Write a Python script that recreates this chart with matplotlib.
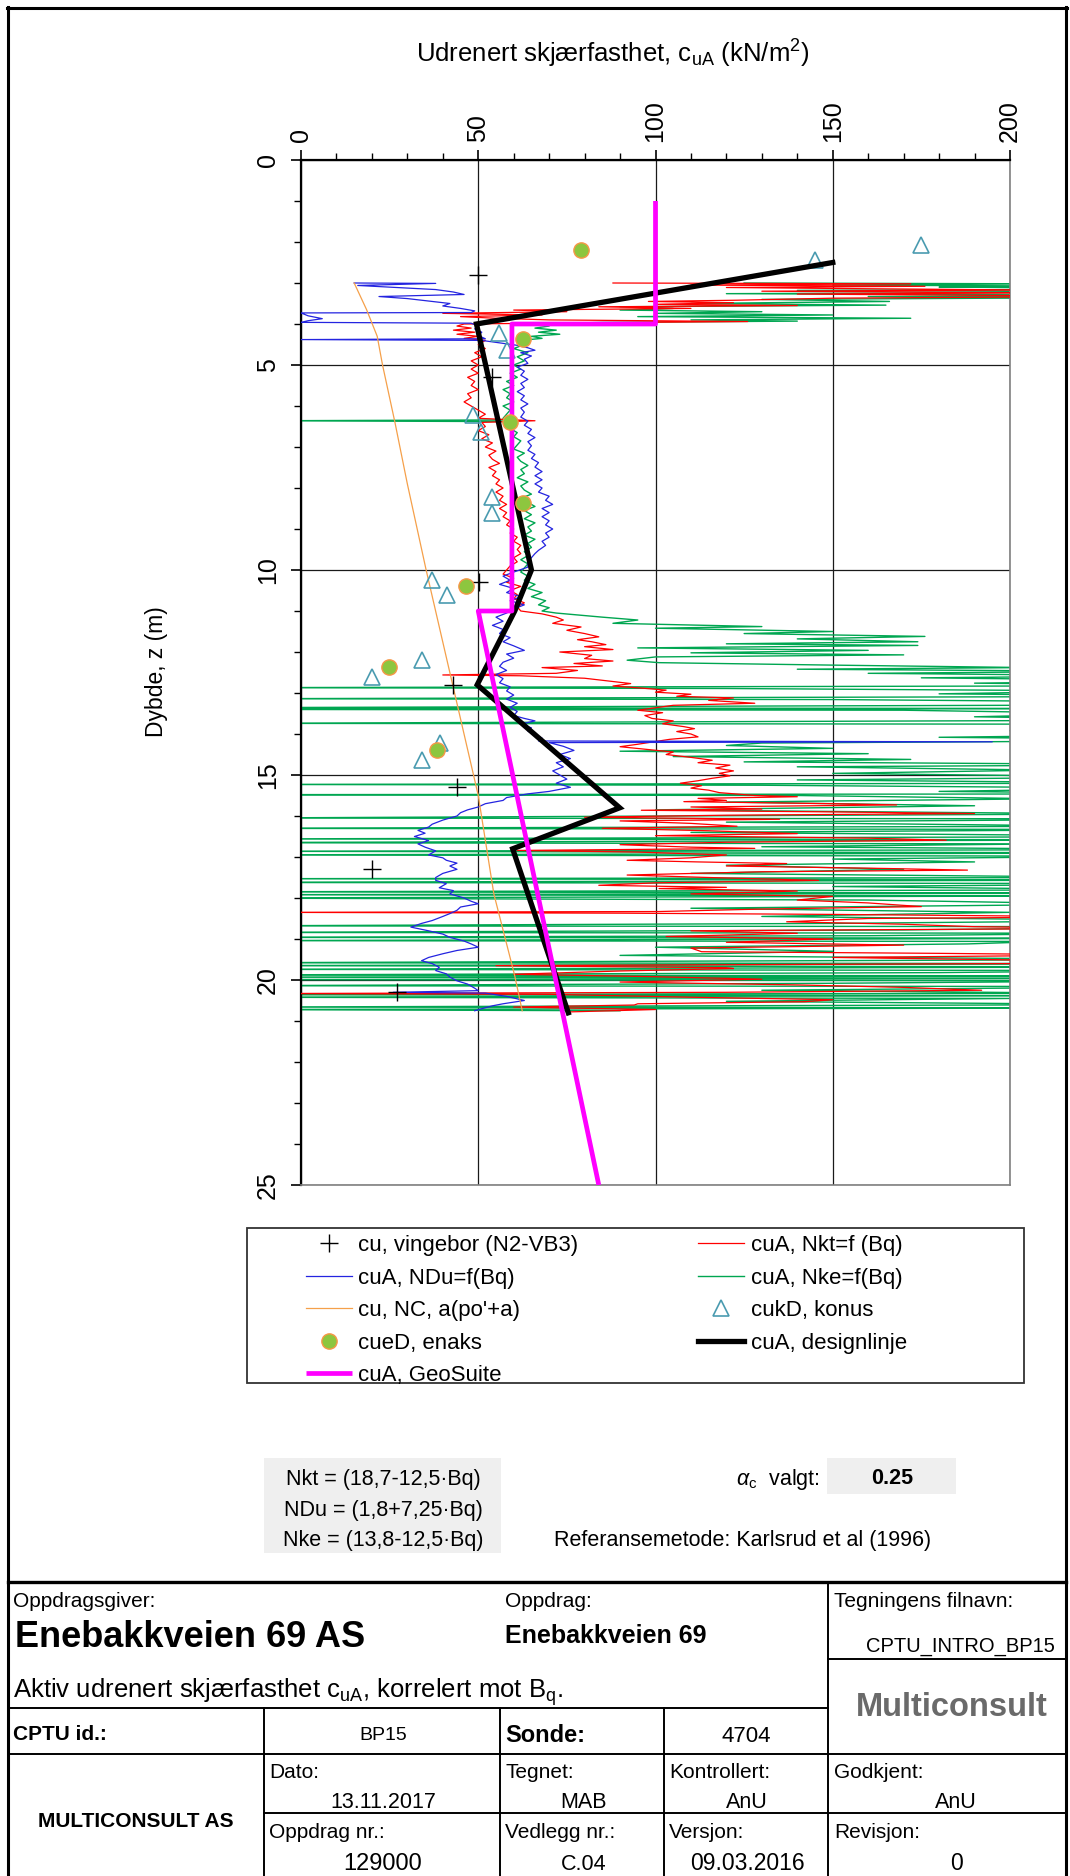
import matplotlib
matplotlib.use('Agg')
import matplotlib.pyplot as plt
from matplotlib.lines import Line2D
from matplotlib.patches import Rectangle
from matplotlib.ticker import MultipleLocator

plt.rcParams['font.family'] = ['Liberation Sans', 'DejaVu Sans']
plt.rcParams['mathtext.fontset'] = 'custom'
plt.rcParams['mathtext.rm'] = 'Liberation Sans'
plt.rcParams['mathtext.it'] = 'Liberation Sans:italic'
plt.rcParams['mathtext.bf'] = 'Liberation Sans:bold'

# ---------------- data (depth m, cu kN/m2) ----------------
X_TICKS = [0, 50, 100, 150, 200]
Y_TICKS = [0, 5, 10, 15, 20, 25]

VANE = [(50, 2.8), (54, 5.3), (50.3, 10.3), (42.8, 12.8), (44.1, 15.3), (20.1, 17.3), (27.2, 20.3)]
ENAKS = [(79, 2.2), (62.7, 4.37), (59, 6.4), (62.7, 8.37), (46.5, 10.4), (24.8, 12.37), (38.3, 14.4)]
KONUS = [(145, 2.45), (175, 2.07), (55.9, 4.21), (58, 4.64), (48.6, 6.21), (50.7, 6.63), (53.8, 8.22),
         (53.8, 8.62), (37, 10.24), (41.1, 10.62), (34, 12.2), (20.1, 12.61), (39.2, 14.22), (34, 14.63)]
DESIGN = [(150, 2.5), (49.5, 4.0), (65, 10.0), (60.3, 11.0), (49.7, 12.8), (89.9, 15.8), (59.7, 16.8), (75.4, 20.8)]
GEOSUITE = [(100, 1.0), (100, 4.0), (59.5, 4.0), (59.5, 11.0), (50, 11.0), (84, 25.0)]
NC_LINE = [(15, 3.0), (18.5, 3.65), (21.5, 4.3), (23, 5.0), (26.5, 6.4), (30, 7.9), (35.3, 10.0),
           (50, 15.5), (54.4, 17.9), (60.3, 19.9), (62.4, 20.75)]

# traces as (depth, cu)
NDU = [(3.00,15),(3.01,38),(3.06,16),(3.10,25),(3.16,38),(3.22,43),(3.28,46),(3.33,22),(3.38,30),(3.44,36),
(3.50,42),(3.56,40),(3.62,45),(3.68,49),(3.72,48),(3.73,0),(3.80,2),(3.87,6),(3.92,2),(3.96,0),(3.98,48),
(4.05,50),(4.12,49),(4.20,51),(4.28,50),(4.36,52),(4.38,0),(4.40,51),(4.46,56),(4.52,61),(4.58,64),(4.64,66),
(4.70,62),(4.78,65),(4.86,63),(4.96,64),(5.05,61),(5.15,63),(5.25,62),(5.35,64),(5.45,62),(5.55,63),(5.65,61),
(5.75,63),(5.85,62),(5.95,64),(6.05,62),(6.15,63),(6.27,62),(6.37,64),(6.47,63),(6.57,65),(6.67,64),(6.77,66),
(6.87,64),(6.97,65),(7.08,64),(7.18,66),(7.28,65),(7.38,67),(7.49,66),(7.60,68),(7.70,66),(7.80,68),(7.90,66),
(8.00,68),(8.10,67),(8.20,70),(8.30,69),(8.40,71),(8.50,68),(8.60,70),(8.70,68),(8.80,70),(8.90,69),(9.00,71),
(9.10,69),(9.20,70),(9.30,68),(9.40,69),(9.52,67),(9.60,66),(9.70,65),(9.80,64),(9.93,64),(10.05,60),(10.15,57),
(10.25,59),(10.35,56),(10.45,60),(10.55,58),(10.65,62),(10.75,59),(10.85,63),(10.95,60),(11.05,58),(11.15,55),
(11.25,57),(11.35,54),(11.45,57),(11.55,56),(11.65,59),(11.75,57),(11.85,60),(11.96,63),(12.05,58),(12.15,60),
(12.25,57),(12.35,56),(12.45,58),(12.55,55),(12.65,57),(12.75,56),(12.85,59),(12.95,58),(13.05,60),(13.15,58),
(13.25,61),(13.35,59),(13.45,61),(13.55,60),(13.62,63),(13.68,66),(13.76,62),(13.85,65),(13.93,64),(14.02,66),
(14.10,68),(14.17,67),(14.19,195),(14.21,70),(14.30,74),(14.40,77),(14.50,73),(14.60,76),(14.70,72),(14.80,74),
(14.90,71),(15.00,73),(15.10,75),(15.20,72),(15.30,76),(15.40,70),(15.46,64),(15.55,58),(15.62,57),(15.70,52),
(15.78,50),(15.85,47),(15.92,45),(16.00,44),(16.10,40),(16.20,37),(16.27,36),(16.35,33),(16.42,35),(16.50,32),
(16.60,36),(16.68,33),(16.76,35),(16.85,38),(16.95,36),(17.02,40),(17.08,41),(17.15,44),(17.22,42),(17.30,44),
(17.40,40),(17.50,38),(17.57,38),(17.65,41),(17.75,39),(17.82,43),(17.90,42),(18.00,46),(18.08,48),(18.14,50),
(18.22,45),(18.30,44),(18.38,42),(18.45,40),(18.55,37),(18.62,34),(18.71,31),(18.80,36),(18.88,40),(18.96,42),
(19.05,46),(19.12,48),(19.20,50),(19.28,44),(19.36,40),(19.45,36),(19.53,34),(19.60,37),(19.69,39),(19.77,38),
(19.85,41),(19.93,42),(20.02,44),(20.10,47),(20.20,49),(20.26,50),(20.30,26),(20.32,52),(20.40,58),(20.50,63),
(20.58,57),(20.63,54),(20.70,51),(20.75,49)]

NKT = [(3.00,88),(3.02,172),(3.05,110),(3.08,176),(3.11,120),(3.14,160),(3.17,205),(3.20,130),(3.24,210),(3.27,140),
(3.31,210),(3.34,205),(3.37,150),(3.42,123),(3.45,98),(3.48,122),(3.52,100),(3.55,140),(3.58,84),(3.62,110),
(3.66,60),(3.70,75),(3.74,40),(3.78,68),(3.82,45),(3.86,55),(3.90,70),(3.94,126),(3.97,80),(4.00,46),(4.05,44),
(4.10,48),(4.15,43),(4.20,49),(4.25,44),(4.30,50),(4.35,46),(4.40,52),(4.50,50),(4.60,52),(4.70,49),(4.80,51),
(4.90,48),(5.00,50),(5.10,48),(5.20,50),(5.30,47),(5.40,49),(5.50,48),(5.60,50),(5.70,47),(5.80,48),(5.90,46),
(6.00,48),(6.10,50),(6.20,52),(6.30,50),(6.36,66),(6.40,51),(6.50,52),(6.60,50),(6.70,53),(6.80,51),(6.90,54),
(7.00,52),(7.10,55),(7.20,53),(7.30,54),(7.40,56),(7.50,53),(7.60,55),(7.70,54),(7.80,56),(7.90,55),(8.00,57),
(8.10,55),(8.20,57),(8.30,56),(8.40,58),(8.50,56),(8.60,58),(8.70,57),(8.80,59),(8.90,58),(9.00,60),(9.10,59),
(9.20,61),(9.30,60),(9.40,62),(9.50,61),(9.60,62),(9.70,60),(9.80,61),(9.90,59),(10.00,58),(10.10,57),(10.20,60),
(10.30,58),(10.40,62),(10.50,59),(10.60,61),(10.70,60),(10.80,63),(10.90,61),(11.00,62),(11.07,68),(11.15,72),
(11.22,74),(11.30,71),(11.39,79),(11.47,75),(11.55,80),(11.63,84),(11.70,78),(11.75,82),(11.82,86),(11.87,80),
(11.94,88),(12.00,73),(12.08,82),(12.16,80),(12.22,88),(12.28,77),(12.34,85),(12.38,68),(12.45,78),(12.52,72),
(12.56,40),(12.58,62),(12.64,80),(12.70,86),(12.77,93),(12.83,88),(12.88,96),(12.93,103),(12.98,100),(13.03,110),
(13.08,106),(13.12,122),(13.18,115),(13.25,128),(13.30,105),(13.36,100),(13.42,95),(13.48,102),(13.55,97),
(13.62,99),(13.68,105),(13.75,102),(13.82,108),(13.87,111),(13.94,106),(14.00,110),(14.07,112),(14.13,104),
(14.25,95),(14.31,90),(14.38,98),(14.44,105),(14.50,103),(14.57,110),(14.64,116),(14.70,112),(14.76,121),
(14.83,117),(14.90,122),(14.96,118),(15.02,121),(15.08,116),(15.14,112),(15.20,107),(15.26,113),(15.32,110),
(15.37,115),(15.43,118),(15.50,128),(15.53,140),(15.57,112),(15.62,120),(15.65,108),(15.70,150),(15.73,168),
(15.78,110),(15.83,130),(15.86,96),(15.90,150),(15.94,190),(15.98,120),(16.03,80),(16.08,135),(16.12,90),
(16.18,110),(16.25,123),(16.30,85),(16.36,115),(16.43,140),(16.48,100),(16.54,160),(16.59,182),(16.64,120),
(16.70,90),(16.76,110),(16.79,128),(16.84,61),(16.88,95),(16.95,120),(17.02,110),(17.08,92),(17.12,112),
(17.16,137),(17.22,120),(17.28,165),(17.32,188),(17.36,130),(17.44,92),(17.50,115),(17.57,146),(17.63,100),
(17.69,84),(17.74,120),(17.77,101),(17.83,140),(17.90,110),(17.96,150),(18.05,140),(18.12,160),(18.21,175),
(18.27,130),(18.33,101),(18.35,-10),(18.37,90),(18.40,150),(18.46,230),(18.50,160),(18.58,137),(18.64,170),
(18.70,190),(18.74,230),(18.80,110),(18.86,140),(18.94,103),(19.00,150),(19.08,120),(19.15,170),(19.22,110),
(19.31,113),(19.35,180),(19.39,230),(19.45,150),(19.52,210),(19.56,240),(19.60,200),(19.65,55),(19.70,120),
(19.72,122),(19.78,90),(19.86,60),(19.92,100),(19.98,130),(20.05,90),(20.12,140),(20.18,170),(20.25,192),
(20.30,120),(20.33,-10),(20.35,70),(20.42,110),(20.48,150),(20.53,142),(20.58,95),(20.61,94),(20.66,60),
(20.72,100),(20.78,75)]

NKE = [(3.00,125),(3.02,210),(3.05,150),(3.08,230),(3.10,180),(3.14,260),(3.18,140),(3.22,250),(3.26,120),
(3.30,240),(3.33,160),(3.36,220),(3.40,130),(3.45,166),(3.50,110),(3.54,165),(3.58,90),(3.62,105),(3.66,90),
(3.70,130),(3.74,100),(3.78,150),(3.82,95),(3.86,172),(3.90,110),(3.93,140),(3.96,85),(4.00,68),(4.05,70),
(4.10,66),(4.15,72),(4.20,67),(4.25,73),(4.30,65),(4.35,68),(4.40,62),(4.50,63),(4.60,60),(4.70,64),(4.80,61),
(4.90,63),(5.00,60),(5.10,62),(5.20,59),(5.30,61),(5.40,58),(5.50,60),(5.60,57),(5.70,59),(5.80,58),(5.90,60),
(6.00,57),(6.10,59),(6.20,58),(6.30,57),(6.34,57),(6.36,-10),(6.38,58),(6.45,60),(6.55,59),(6.65,61),(6.75,60),
(6.85,62),(6.95,61),(7.05,60),(7.15,63),(7.25,61),(7.35,62),(7.45,64),(7.55,62),(7.65,63),(7.75,61),(7.85,64),
(7.95,62),(8.05,63),(8.15,65),(8.25,62),(8.35,64),(8.45,66),(8.55,63),(8.65,65),(8.75,63),(8.85,66),(8.95,64),
(9.05,65),(9.15,63),(9.25,66),(9.35,64),(9.45,65),(9.55,63),(9.65,64),(9.75,62),(9.85,64),(9.95,63),(10.05,62),
(10.15,64),(10.25,63),(10.35,66),(10.45,64),(10.55,68),(10.65,65),(10.75,69),(10.85,67),(10.92,70),(11.00,68),
(11.05,72),(11.15,85),(11.22,95),(11.30,88),(11.38,130),(11.42,100),(11.50,150),(11.55,125),(11.62,176),
(11.68,140),(11.75,174),(11.80,120),(11.84,174),(11.90,95),(11.96,160),(12.02,110),(12.07,170),(12.12,100),
(12.20,92),(12.26,101),(12.32,150),(12.38,205),(12.42,140),(12.47,230),(12.52,160),(12.58,240),(12.63,175),
(12.70,250),(12.76,190),(12.82,260),(12.87,-20),(12.89,120),(12.95,230),(13.02,180),(13.08,260),(13.14,-20),
(13.16,150),(13.22,240),(13.30,200),(13.36,-30),(13.38,260),(13.40,-30),(13.42,170),(13.50,230),(13.58,190),
(13.66,250),(13.74,-20),(13.76,210),(13.85,250),(13.92,200),(14.00,260),(14.08,180),(14.15,270),(14.22,130),
(14.28,120),(14.35,150),(14.42,90),(14.48,160),(14.55,105),(14.62,172),(14.68,125),(14.75,250),(14.80,140),
(14.88,210),(14.96,150),(15.05,240),(15.12,140),(15.20,250),(15.23,-20),(15.25,130),(15.32,240),(15.40,180),
(15.46,260),(15.48,-30),(15.50,140),(15.58,210),(15.66,120),(15.75,190),(15.85,100),(15.95,230),(16.05,-20),
(16.07,250),(16.15,120),(16.25,230),(16.30,-30),(16.33,240),(16.40,110),(16.50,260),(16.56,-20),(16.58,250),
(16.65,-30),(16.68,210),(16.75,130),(16.82,250),(16.86,-20),(16.90,260),(16.95,-30),(16.98,240),(17.05,150),
(17.12,190),(17.20,120),(17.30,170),(17.40,110),(17.50,240),(17.53,-20),(17.56,250),(17.62,-30),(17.65,260),
(17.72,150),(17.80,240),(17.85,-25),(17.88,250),(17.92,-20),(17.95,230),(18.00,-30),(18.05,160),(18.15,230),
(18.25,110),(18.35,200),(18.45,130),(18.55,240),(18.62,150),(18.68,-20),(18.70,250),(18.78,170),(18.84,-20),
(18.86,240),(18.92,160),(18.96,-30),(18.98,250),(19.04,-20),(19.06,210),(19.12,188),(19.20,100),(19.30,150),
(19.40,90),(19.50,240),(19.58,-20),(19.60,260),(19.65,-25),(19.68,250),(19.74,-20),(19.77,240),(19.82,180),
(19.88,-30),(19.90,260),(19.93,-20),(19.96,250),(19.99,-30),(20.02,240),(20.08,150),(20.14,-20),(20.16,250),
(20.25,130),(20.32,220),(20.36,-20),(20.38,230),(20.42,-30),(20.45,200),(20.52,120),(20.60,240),(20.66,-20),
(20.68,260),(20.72,-25),(20.75,90)]

LEGEND_LABELS = ['cu, vingebor (N2-VB3)', 'cuA, NDu=f(Bq)', "cu, NC, a(po'+a)", 'cueD, enaks', 'cuA, GeoSuite',
                 'cuA, Nkt=f (Bq)', 'cuA, Nke=f(Bq)', 'cukD, konus', 'cuA, designlinje']

# ---------------- figure ----------------
W, H = 1070, 1876
fig = plt.figure(figsize=(W / 100, H / 100), dpi=100)


def FX(px):
    return px / W


def FY(py):
    return 1 - py / H


def hline(x0, x1, y, lw=1.4, color='black'):
    fig.add_artist(Line2D([FX(x0), FX(x1)], [FY(y), FY(y)], lw=lw, color=color, transform=fig.transFigure))


def vline(x, y0, y1, lw=1.4, color='black'):
    fig.add_artist(Line2D([FX(x), FX(x)], [FY(y0), FY(y1)], lw=lw, color=color, transform=fig.transFigure))


def txt(x, y, s, size, ha='left', weight='normal', color='black', va='baseline', **kw):
    fig.text(FX(x), FY(y), s, fontsize=size, ha=ha, va=va, fontweight=weight, color=color, **kw)


def unz_dv(tr):
    return [p[1] for p in tr], [p[0] for p in tr]


def unz_xy(tr):
    return [p[0] for p in tr], [p[1] for p in tr]


ax = fig.add_axes([FX(301), FY(1185), FX(1010) - FX(301), (1185 - 160) / H])

x, y = unz_dv(NKE)
h_nke, = ax.plot(x, y, color='#00a651', lw=1.0, zorder=2)
x, y = unz_dv(NKT)
h_nkt, = ax.plot(x, y, color='#ff0000', lw=0.9, zorder=3)
x, y = unz_dv(NDU)
h_ndu, = ax.plot(x, y, color='#2424e0', lw=0.9, zorder=4)
x, y = unz_xy(NC_LINE)
h_nc, = ax.plot(x, y, color='#f5a04a', lw=0.9, zorder=4)
x, y = unz_xy(KONUS)
h_konus, = ax.plot(x, y, ls='none', marker='^', ms=12, mfc='none', mec='#4a9bb0', mew=1.2, zorder=5)
x, y = unz_xy(VANE)
h_vane, = ax.plot(x, y, ls='none', marker='+', ms=13, mec='black', mew=1.0, zorder=5)
x, y = unz_xy(DESIGN)
h_design, = ax.plot(x, y, color='black', lw=3.8, zorder=6, solid_joinstyle='miter')
x, y = unz_xy(GEOSUITE)
h_geo, = ax.plot(x, y, color='#ff00ff', lw=3.4, zorder=7, solid_capstyle='butt')
x, y = unz_xy(ENAKS)
h_enaks, = ax.plot(x, y, ls='none', marker='o', ms=11, mfc='#8dc63f', mec='#f79646', mew=1.0, zorder=8)

ax.set_xlim(0, 200)
ax.set_ylim(25, 0)
ax.xaxis.set_ticks_position('top')
ax.set_xticks(X_TICKS)
ax.set_yticks(Y_TICKS)
ax.xaxis.set_minor_locator(MultipleLocator(10))
ax.yaxis.set_minor_locator(MultipleLocator(1))
ax.tick_params(axis='x', which='major', direction='out', length=7, width=1.2, pad=6, labelsize=18, labelrotation=90)
ax.tick_params(axis='x', which='minor', direction='out', length=5, width=1.0)
ax.tick_params(axis='y', which='major', direction='out', length=7, width=1.2, pad=8, labelsize=18, labelrotation=90)
ax.tick_params(axis='y', which='minor', direction='out', length=5, width=1.0)
for lab in ax.get_yticklabels():
    lab.set_va('center')
ax.grid(True, which='major', color='#1a1a1a', lw=0.9)
ax.set_axisbelow(True)
for s in ['top', 'left']:
    ax.spines[s].set_linewidth(1.6)
    ax.spines[s].set_color('black')
for s in ['right', 'bottom']:
    ax.spines[s].set_linewidth(1.2)
    ax.spines[s].set_color('#808080')

txt(613, 63, r'Udrenert skjærfasthet, c$_{\mathregular{uA}}$ (kN/m$^{\mathregular{2}}$)', 18.5, ha='center')
txt(156, 672, 'Dybde, z (m)', 16.5, ha='center', va='center', rotation=90)

# legend
handles = [h_vane, h_ndu, h_nc, h_enaks, h_geo, h_nkt, h_nke, h_konus, h_design]
fig.legend(handles, LEGEND_LABELS, loc='upper left', bbox_to_anchor=(FX(306), FY(1235)),
           bbox_transform=fig.transFigure, ncol=2, frameon=False, fontsize=16, handlelength=2.05,
           handletextpad=0.3, columnspacing=5.4, labelspacing=0.52, borderpad=0, borderaxespad=0, numpoints=1)
fig.add_artist(Rectangle((FX(247), FY(1383)), FX(1024) - FX(247), (1383 - 1228) / H, fill=False,
                         lw=1.3, ec='#333333', transform=fig.transFigure))

# formula area
fig.add_artist(Rectangle((FX(264), FY(1553)), FX(501) - FX(264), (1553 - 1458) / H, fc='#efefef', ec='none',
                         transform=fig.transFigure, zorder=0))
fig.add_artist(Rectangle((FX(827), FY(1494)), FX(956) - FX(827), (1494 - 1458) / H, fc='#efefef', ec='none',
                         transform=fig.transFigure, zorder=0))
txt(383, 1485, 'Nkt = (18,7-12,5·Bq)', 15.5, ha='center')
txt(383, 1516, 'NDu = (1,8+7,25·Bq)', 15.5, ha='center')
txt(383, 1546, 'Nke = (13,8-12,5·Bq)', 15.5, ha='center')
txt(736, 1485, r'$\alpha_{\mathregular{c}}$  valgt:', 15.5)
txt(892, 1484, '0.25', 15.5, ha='center', weight='bold')
txt(743, 1546, 'Referansemetode: Karlsrud et al (1996)', 15.5, ha='center')

# outer frame
vline(8, 7, 1876, lw=2.2)
vline(1066, 7, 1876, lw=2.2)
hline(7, 1067, 8, lw=2.2)

# title block
hline(8, 1066, 1582, lw=2.4)
hline(8, 828, 1708)
hline(828, 1066, 1659)
hline(8, 1066, 1754)
hline(264, 1066, 1813)
vline(828, 1582, 1876)
vline(264, 1708, 1876)
vline(500, 1708, 1876)
vline(664, 1708, 1876)

txt(13, 1607, 'Oppdragsgiver:', 15)
txt(15, 1647, 'Enebakkveien 69 AS', 26, weight='bold')
txt(13, 1698, r'Aktiv udrenert skjærfasthet c$_{\mathregular{uA}}$, korrelert mot B$_{\mathregular{q}}$.', 18.5)
txt(505, 1607, 'Oppdrag:', 15)
txt(505, 1643, 'Enebakkveien 69', 18, weight='bold')
txt(834, 1607, 'Tegningens filnavn:', 15)
txt(960, 1652, 'CPTU_INTRO_BP15', 14.5, ha='center')
txt(952, 1716, 'Multiconsult', 23.5, ha='center', weight='bold', color='#6a6a6a')

txt(13, 1740, 'CPTU id.:', 15, weight='bold')
txt(383, 1740, 'BP15', 14, ha='center')
txt(505, 1742, 'Sonde:', 17, weight='bold')
txt(746, 1742, '4704', 16, ha='center')

txt(136, 1827, 'MULTICONSULT AS', 15, ha='center', weight='bold')
txt(269, 1778, 'Dato:', 15)
txt(505, 1778, 'Tegnet:', 15)
txt(669, 1778, 'Kontrollert:', 15)
txt(834, 1778, 'Godkjent:', 15)
txt(383, 1808, '13.11.2017', 15.5, ha='center')
txt(584, 1808, 'MAB', 15.5, ha='center')
txt(747, 1808, 'AnU', 15.5, ha='center')
txt(956, 1808, 'AnU', 15.5, ha='center')
txt(269, 1838, 'Oppdrag nr.:', 15)
txt(505, 1838, 'Vedlegg nr.:', 15)
txt(669, 1838, 'Versjon:', 15)
txt(834, 1838, 'Revisjon:', 15)
txt(383, 1870, '129000', 17, ha='center')
txt(584, 1870, 'C.04', 15.5, ha='center')
txt(747, 1870, '09.03.2016', 16.5, ha='center')
txt(956, 1870, '0', 16.5, ha='center')

fig.savefig('out.png', dpi=100)
